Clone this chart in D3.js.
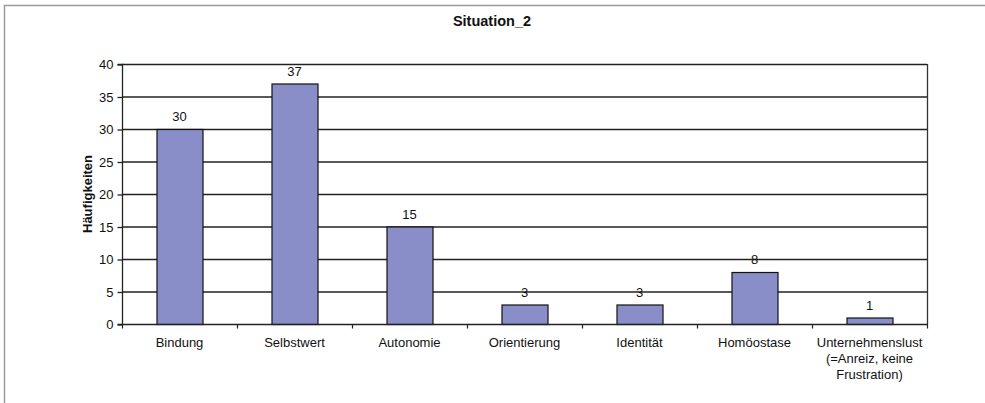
<!DOCTYPE html>
<html>
<head>
<meta charset="utf-8">
<script src="https://cdn.jsdelivr.net/npm/d3@7"></script>
<style>
  html, body { margin: 0; padding: 0; background: #fff; }
  svg { display: block; font-family: "Liberation Sans", Arial, sans-serif; }
</style>
</head>
<body>
<svg id="chart" width="985" height="403"></svg>
<script>
// Categories (each entry is a list of label lines) and counts
const categories = [
  ["Bindung"],
  ["Selbstwert"],
  ["Autonomie"],
  ["Orientierung"],
  ["Identität"],
  ["Homöostase"],
  ["Unternehmenslust", "(=Anreiz, keine", "Frustration)"]
];
const counts = [30, 37, 15, 3, 3, 8, 1];
const yTicks = [0, 5, 10, 15, 20, 25, 30, 35, 40];
const chartTitle = "Situation_2";
const yTitle = "Häufigkeiten";

const svg = d3.select("#chart");
const W = 985, H = 403;
const plot = { left: 122, right: 927, top: 64, bottom: 324 };

// outer frame
svg.append("path")
  .attr("d", `M4.5,${H} V5.5 H${W}`)
  .attr("fill", "none")
  .attr("stroke", "#9a9a9a")
  .attr("stroke-width", 1.5);

const keys = categories.map((c, i) => i);
const x = d3.scaleBand().domain(keys).range([plot.left, plot.right]).paddingInner(0.6).paddingOuter(0.3);
const xb = d3.scaleBand().domain(keys).range([plot.left, plot.right]);
const y = d3.scaleLinear().domain([0, 40]).range([plot.bottom, plot.top]);

// gridlines
svg.append("g").selectAll("line").data(yTicks.filter(t => t > 0)).join("line")
  .attr("x1", plot.left).attr("x2", plot.right)
  .attr("y1", d => y(d) + 0.5).attr("y2", d => y(d) + 0.5)
  .attr("stroke", "#222").attr("stroke-width", 1.3);

// right frame of plot area
svg.append("line")
  .attr("x1", plot.right + 0.5).attr("x2", plot.right + 0.5)
  .attr("y1", plot.top).attr("y2", plot.bottom)
  .attr("stroke", "#333").attr("stroke-width", 1.3);

// bars
svg.append("g").selectAll("rect").data(counts).join("rect")
  .attr("x", (d, i) => x(i) + 0.5)
  .attr("y", d => y(d) + 0.5)
  .attr("width", x.bandwidth())
  .attr("height", d => y(0) - y(d))
  .attr("fill", "#8a8ec8")
  .attr("stroke", "#111")
  .attr("stroke-width", 1.2);

// value labels
svg.append("g").selectAll("text").data(counts).join("text")
  .attr("x", (d, i) => x(i) + x.bandwidth() / 2)
  .attr("y", d => y(d) - 8)
  .attr("text-anchor", "middle")
  .attr("font-size", 13)
  .attr("fill", "#111")
  .text(d => d);

// y axis
const yAxis = d3.axisLeft(y).tickValues(yTicks).tickSize(5).tickPadding(4);
const gy = svg.append("g").attr("transform", `translate(${plot.left + 0.5},0.5)`).call(yAxis);
gy.select(".domain").attr("stroke", "#222").attr("stroke-width", 1.3).attr("d", `M-5,${plot.top}H0V${plot.bottom}H-5`);
gy.selectAll(".tick line").attr("stroke", "#222").attr("stroke-width", 1.3);
gy.selectAll(".tick text").attr("font-size", 13).attr("fill", "#111")
  .attr("font-family", "Liberation Sans, Arial, sans-serif");

// x axis: baseline with ticks at category boundaries
const gx = svg.append("g").attr("transform", `translate(0,${plot.bottom + 0.5})`);
gx.append("line").attr("x1", plot.left).attr("x2", plot.right + 1)
  .attr("stroke", "#222").attr("stroke-width", 1.3);
const bounds = keys.map(i => xb(i)).concat([plot.right]);
gx.selectAll("line.tk").data(bounds).join("line").attr("class", "tk")
  .attr("x1", d => d + 0.5).attr("x2", d => d + 0.5)
  .attr("y1", 0).attr("y2", 4)
  .attr("stroke", "#222").attr("stroke-width", 1.2);

// category labels
const lab = svg.append("g").selectAll("text").data(categories).join("text")
  .attr("text-anchor", "middle")
  .attr("font-size", 13)
  .attr("fill", "#111");
lab.each(function(lines, i) {
  d3.select(this).selectAll("tspan").data(lines).join("tspan")
    .attr("x", xb(i) + xb.bandwidth() / 2)
    .attr("y", (d, j) => 347 + j * 16)
    .text(d => d);
});

// title
svg.append("text")
  .attr("x", 492).attr("y", 26)
  .attr("text-anchor", "middle")
  .attr("font-size", 14.5).attr("font-weight", "bold")
  .attr("fill", "#111")
  .text(chartTitle);

// y axis title
svg.append("text")
  .attr("transform", `translate(92,${(plot.top + plot.bottom) / 2}) rotate(-90)`)
  .attr("text-anchor", "middle")
  .attr("font-size", 13).attr("font-weight", "bold")
  .attr("fill", "#111")
  .text(yTitle);
</script>
</body>
</html>
